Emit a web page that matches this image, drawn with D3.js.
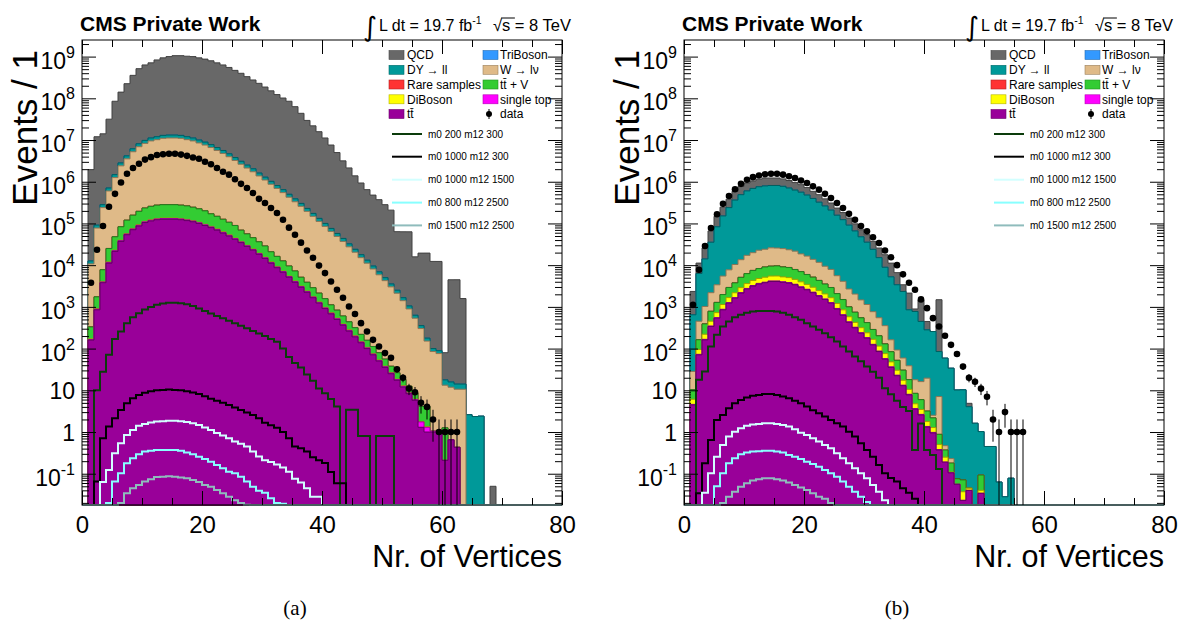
<!DOCTYPE html>
<html>
<head>
<meta charset="utf-8">
<script src="https://cdn.jsdelivr.net/npm/d3@7"></script>
<style>
  body { margin: 0; background: #fff; }
  svg { display: block; }
</style>
</head>
<body>
<svg id="chart" width="1184" height="628"></svg>
<script>
// ---------------- data: events per 1-vertex bin (index = bin lower edge) ----------------
// Panel (a)
const ttbarA = [0,160,850,3800,11200,21400,37200,53700,70800,87100,1.05e5,1.15e5,1.23e5,1.26e5,1.26e5,1.26e5,1.23e5,1.17e5,1.10e5,1.0e5,89100,79400,69200,58900,50100,41700,34700,28200,22900,18200,14500,11200,8700,6760,5130,3890,2950,2240,1660,1230,910,680,500,363,263,191,138,100,71,50,35.5,25,17.4,12,8.3,5.75,1.3,1.0,1.0,1.0,0.21,0.65,0.43];
const singleTopA = [0,6,34,150,450,860,1500,2100,2800,3500,4200,4600,4900,5000,5000,5000,4900,4700,4400,4000,3600,3200,2800,2400,2000,1700,1400,1100,920,730,580,450,350,270,210,160,120,90,66,49,36,27,20,15,11,8,6,4,3,2,1.4,1.0,0.7,0.5,0.33,0.23,0.45,0.3,0.05];
const diBosonA = [0,5,26,110,340,640,1100,1600,2100,2600,3200,3500,3700,3800,3800,3800,3700,3500,3300,3000,2700,2400,2100,1800,1500,1300,1000,850,690,550,440,340,260,200,150,120,90,67,50,37,27,20,15,11,8,6,4,3,2,1.5,1.1,0.75,0.5,0.36,0.25,0.17,0.05,0.05];
const ttVA = [0,160,830,3700,13100,25000,43400,62500,82000,1.02e5,1.22e5,1.34e5,1.43e5,1.47e5,1.47e5,1.47e5,1.43e5,1.38e5,1.27e5,1.17e5,1.05e5,85000,74000,63000,53000,44500,32000,26000,21000,16800,13300,8900,6900,5400,4060,3080,1970,1490,1100,820,600,390,300,215,156,112,71,51,36,26,18,11,7.7,5.4,3.7,2.5,2.3,2.8,0,0,1.05];
const rareA = [0,2,8,37,130,250,430,620,820,1000,1200,1300,1400,1500,1500,1500,1400,1400,1300,1200,1000,850,740,630,530,450,320,260,210,170,130,90,70,54,41,31,20,15,11,8,6,4,3,2,1.6,1.1,0.7,0.5,0.4,0.3,0.2,0.1];
const wlnuA = [0,10400,75800,2.32e5,5.77e5,1.21e6,2.32e6,3.42e6,5.08e6,6.72e6,8.07e6,9.26e6,9.92e6,1.07e7,1.09e7,1.09e7,1.07e7,9.94e6,9.27e6,8.28e6,7.37e6,6.43e6,5.47e6,4.65e6,3.87e6,3.14e6,2.56e6,2.07e6,1.69e6,1.34e6,1.07e6,8.5e5,6.75e5,5.36e5,4.16e5,3.24e5,2.52e5,1.91e5,1.45e5,1.10e5,83400,63400,48000,36500,27100,20100,14900,11000,8000,5800,4200,2980,2100,1390,880,527,298,147,84,75,12,11.2,10.2,10.6];
const dyA = [0,1900,13700,42000,1.06e5,2.2e5,4.2e5,6.3e5,9.3e5,1.22e6,1.47e6,1.68e6,1.8e6,1.94e6,1.98e6,1.98e6,1.94e6,1.8e6,1.68e6,1.5e6,1.34e6,1.16e6,9.9e5,8.4e5,7.0e5,5.7e5,4.6e5,3.8e5,3.1e5,2.4e5,1.9e5,1.5e5,1.2e5,97000,75000,58000,45000,34000,26000,20000,15000,11400,8600,6600,4900,3600,2700,2000,1430,1040,750,530,380,250,160,95,53,27,15,13,4.5,4,3.5,3.5,2.6,2.35,2.4];
const triBosonA = [0,1,10,30,80,160,300,450,650,850,1000,1150,1250,1350,1380,1380,1350,1250,1150,1050,930,800,690,580,490,400,320,260,210,170,130,100,80,65,50,40,30,23,17,13,10,7,5,4,3,2,1.5,1,0.8,0.6,0.4,0.3,0.2,0.1];
const qcdA = [0,1.94e6,1.19e7,1.38e7,3.09e7,8.36e7,1.38e8,2.2e8,3.49e8,5.05e8,6.21e8,6.97e8,8.2e8,9.2e8,9.87e8,1.04e9,1.04e9,1.01e9,9.89e8,9.23e8,8.62e8,7.86e8,7.01e8,6.25e8,5.45e8,4.64e8,3.95e8,3.28e8,2.73e8,2.27e8,1.85e8,1.5e8,1.22e8,1.01e8,8.46e7,6.27e7,4.34e7,2.93e7,2.17e7,1.57e7,1.11e7,7.51e6,4.95e6,3.12e6,2.11e6,1.36e6,9.15e5,6.33e5,4.69e5,3.65e5,2.77e5,2.05e5,6.1e4,6.15e4,6.2e4,1.52e4,1.91e4,1.93e4,1.22e4,1.22e4,62,4450,4460,1570,0,0,0,0,0.05];
const dataA = [0,3800,23400,87100,2.51e5,5.13e5,9.55e5,1.55e6,2.14e6,2.69e6,3.39e6,3.89e6,4.37e6,4.57e6,4.68e6,4.68e6,4.47e6,4.17e6,3.8e6,3.55e6,3.02e6,2.63e6,2.14e6,1.74e6,1.48e6,1.15e6,8.91e5,7.08e5,5.37e5,3.89e5,3.09e5,2.34e5,1.78e5,1.23e5,79400,53700,34700,22400,15100,9770,6460,4070,2570,1660,1020,676,407,257,162,112,78,60,32,20,11,9,5,4,2,1,1,1,1];
const sig1A = [0,0,10,28,71,170,257,407,562,708,871,1000,1120,1200,1260,1260,1230,1150,1050,912,794,692,603,537,468,407,355,309,263,229,200,170,145,100,63,45,35,24,17,11,8.5,6.2,4.1,0,3.4,3.4,0.8,0.8,0,0.8,0.8,0.8];
const sig2A = [0,0,0.065,0.71,1.35,2.14,3.39,4.9,6.46,7.76,8.71,9.55,10.0,10.2,10.5,10.2,10.0,9.55,8.91,8.13,7.24,6.31,5.62,5.01,4.47,3.89,3.39,2.95,2.57,2.14,1.66,1.45,1.26,1.0,0.71,0.45,0.41,0.34,0.25,0.21,0.18,0.11,0.059,0.059];
const sig3A = [0,0,0,0.063,0.123,0.31,0.54,0.85,1.12,1.41,1.55,1.70,1.78,1.82,1.86,1.86,1.82,1.74,1.62,1.48,1.29,1.12,0.95,0.83,0.71,0.59,0.52,0.45,0.34,0.26,0.21,0.19,0.166,0.141,0.112,0.076,0.062,0.045,0.028,0.028];
const sig4A = [0,0,0,0,0.020,0.065,0.102,0.178,0.234,0.295,0.339,0.355,0.372,0.372,0.372,0.372,0.355,0.324,0.295,0.257,0.224,0.195,0.162,0.135,0.112,0.102,0.085,0.065,0.049,0.039,0.035,0.026,0.020,0.019];
const sig5A = [0,0,0,0,0,0,0.020,0.034,0.045,0.054,0.065,0.074,0.083,0.085,0.087,0.085,0.081,0.078,0.071,0.063,0.054,0.049,0.041,0.034,0.028,0.023,0.020,0.018];

// Panel (b)
const ttbarB = [0,4.47,70.8,162,339,537,851,1230,1620,2140,2690,3160,3550,3800,4070,4070,3890,3720,3390,2950,2570,2190,1820,1510,1230,891,631,427,316,234,178,123,85,56,35.5,22.4,12.9,7.8,3.55,2.57,1.32,0.95,0.37,0.19,0.105,0.056,0.023,0.04,0,0.034];
const singleTopB = [0,0.13,2.1,4.9,10,16,26,37,49,64,81,95,107,114,122,122,117,112,102,89,77,66,55,45,37,27,19,13,9.5,7,5.3,3.7,2.6,1.7,1.1,0.7,0.4,0.23,0.1,0.08,0.04,0.03,0.01];
const diBosonB = [0,1.5,22,54,105,175,265,400,510,690,850,1020,1130,1230,1290,1310,1230,1200,1070,950,815,705,575,490,390,290,198,140,99,76,56,40,27,18,11.4,7.2,4.1,2.5,1.1,0.82,0.42,0.3,0.12,0.06,0.005,0,0.014,0.005,0,0.006];
const ttVB = [0,4.2,68,170,330,550,830,1250,1580,2200,2650,3200,3500,3900,4000,4100,3850,3750,3300,3000,2500,2200,1850,1480,1250,870,650,420,320,230,180,120,88,54,36,22,13,7.5,3.7,2.5,1.4,0.9,0.38,0.12,0.07,0.02,0.034,0,0,0.053];
const rareB = [0,0.04,0.7,1.6,3.4,5.4,8.5,12,16,21,27,32,36,38,41,41,39,37,34,30,26,22,18,15,12,9,6,4,3,2.3,1.8,1.2,0.9,0.6,0.4,0.2,0.1,0.1];
const wlnuB = [0,18,290,630,1400,2100,3500,4800,6600,8400,10900,12400,14500,15000,16500,16100,15800,14600,13800,11600,10500,8600,7400,5900,5000,3500,2600,1680,1280,920,720,480,345,224,78,40,29,20.6,9.5,10.2,16.4,0.34,6.2,0.1,0.05];
const dyB = [0,618,5860,13100,33300,79800,1.46e5,2.32e5,3.53e5,4.76e5,5.86e5,6.72e5,7.36e5,7.7e5,7.87e5,7.87e5,7.51e5,6.84e5,6.09e5,5.43e5,4.63e5,3.84e5,3.12e5,2.53e5,2.01e5,1.52e5,1.19e5,88500,64100,46400,34400,23200,14600,8550,5090,3300,2280,812,758,431,262,254,78,58.5,33.6,10.1,10.2,4.0,1.62,0.93,0.45,0.45,0.063,0.028,0.078];
const triBosonB = [0,0.3,3,7,17,40,75,115,175,240,290,335,370,385,395,395,375,340,305,270,230,190,155,125,100,75,60,44,32,23,17,12,7,4,2.5,1.6,1.1,0.4,0.4,0.2,0.1,0.1];
const qcdB = [0,1700,4900,11600,30600,64800,94000,1.4e5,2.26e5,2.86e5,3.3e5,3.55e5,3.89e5,4.36e5,4.17e5,4.17e5,3.94e5,3.62e5,3.24e5,2.89e5,2.45e5,1.91e5,1.66e5,1.26e5,1.0e5,76000,59000,43800,31600,22900,18200,13200,10600,8890,5950,3220,1050,1290,115,1030,165,0,1400,0,0,0,0,0.83];
const dataB = [0,1120,7760,28800,77600,1.66e5,2.95e5,4.57e5,6.61e5,8.91e5,1.12e6,1.29e6,1.41e6,1.51e6,1.55e6,1.55e6,1.48e6,1.35e6,1.23e6,1.07e6,9.33e5,7.76e5,6.46e5,5.13e5,4.07e5,3.09e5,2.34e5,1.7e5,1.23e5,87100,64600,46800,33900,22400,15500,10000,6030,3800,2570,1510,933,537,339,204,123,74,37,20,16,11,7,2,1,3,1,1,1];
const sig1B = [0,0,17.8,28.2,112,214,339,447,562,646,724,776,794,794,794,776,724,646,562,490,407,339,282,234,186,148,112,85,65,50,37,28,20,11.2,8,5.6,4,3.2,0.37,1.6,0.37,0.28,0.13];
const sig2B = [0,0,0.034,0.178,0.646,1.95,2.57,3.72,4.9,5.89,6.76,7.41,7.76,8.13,8.13,7.76,7.08,6.46,5.62,4.9,4.07,3.31,2.82,2.34,1.95,1.62,1.35,1.02,0.776,0.537,0.372,0.257,0.162,0.102,0.079,0.065,0.045,0.035,0.025];
const sig3B = [0,0,0,0.035,0.102,0.257,0.49,0.776,1.02,1.23,1.41,1.51,1.55,1.62,1.62,1.55,1.48,1.35,1.17,0.955,0.851,0.708,0.589,0.49,0.407,0.309,0.234,0.178,0.135,0.102,0.078,0.054,0.037,0.023];
const sig4B = [0,0,0,0,0,0.05,0.102,0.178,0.234,0.295,0.324,0.339,0.347,0.355,0.355,0.339,0.324,0.282,0.257,0.224,0.195,0.17,0.148,0.123,0.102,0.085,0.065,0.049,0.037,0.028,0.021];
const sig5B = [0,0,0,0,0,0,0.02,0.028,0.037,0.049,0.059,0.069,0.074,0.078,0.078,0.074,0.069,0.062,0.054,0.047,0.041,0.034,0.028,0.025,0.020];

// Legend / axis text
const boxEntries = [
  ["qcd", "QCD"], ["triBoson", "TriBoson"],
  ["dy", "DY \u2192 ll"], ["wlnu", "W \u2192 l\u03bd"],
  ["rare", "Rare samples"], ["ttV", "tt\u0304 + V"],
  ["diBoson", "DiBoson"], ["singleTop", "single top"],
  ["ttbar", "tt\u0304"], ["data", "data"]
];
const signalLabels = ["m0 200 m12 300", "m0 1000 m12 300", "m0 1000 m12 1500", "m0 800 m12 2500", "m0 1500 m12 2500"];
const xTickValues = [0, 20, 40, 60, 80];
const yDecades = [-1, 0, 1, 2, 3, 4, 5, 6, 7, 8, 9];

// ---------------- drawing ----------------
const FONT = '"Liberation Sans", Arial, Helvetica, sans-serif';
const Y_MIN = 0.0178, Y_MAX = 2.5e9;
const TOP = 40, BOTTOM = 505, NBINS = 80;
const keys = ["ttbar", "singleTop", "diBoson", "ttV", "rare", "wlnu", "dy", "triBoson", "qcd"];
const colors = {
  qcd: "#686868", triBoson: "#3399ff", dy: "#009999", wlnu: "#dfba88", rare: "#ff3333",
  ttV: "#33cc33", diBoson: "#ffff00", singleTop: "#ff00ff", ttbar: "#990099"
};
const signalColors = ["#0c3c0c", "#000000", "#d2ffff", "#88ffff", "#8fbcbc"];

const svg = d3.select("#chart");
svg.append("rect").attr("width", 1184).attr("height", 628).attr("fill", "#fff");

const panels = [
  { id: "a", left: 82, right: 562, caption: "(a)",
    stack: { ttbar: ttbarA, singleTop: singleTopA, diBoson: diBosonA, ttV: ttVA, rare: rareA, wlnu: wlnuA, dy: dyA, triBoson: triBosonA, qcd: qcdA },
    data: dataA, signals: [sig1A, sig2A, sig3A, sig4A, sig5A] },
  { id: "b", left: 684, right: 1164, caption: "(b)",
    stack: { ttbar: ttbarB, singleTop: singleTopB, diBoson: diBosonB, ttV: ttVB, rare: rareB, wlnu: wlnuB, dy: dyB, triBoson: triBosonB, qcd: qcdB },
    data: dataB, signals: [sig1B, sig2B, sig3B, sig4B, sig5B] }
];

function drawPanel(p) {
  const x = d3.scaleLinear().domain([0, 80]).range([p.left, p.right]);
  const y = d3.scaleLog().domain([Y_MIN, Y_MAX]).range([BOTTOM, TOP]);
  const cy = v => y(Math.min(Math.max(v, Y_MIN), Y_MAX));
  const g = svg.append("g");

  const clipId = "clip-" + p.id;
  svg.append("clipPath").attr("id", clipId).append("rect")
    .attr("x", p.left).attr("y", TOP).attr("width", p.right - p.left).attr("height", BOTTOM - TOP + 1.5);
  const plot = g.append("g").attr("clip-path", `url(#${clipId})`);

  // stacked backgrounds
  const rows = d3.range(NBINS).map(i => {
    const r = { bin: i };
    keys.forEach(k => r[k] = p.stack[k][i] || 0);
    return r;
  });
  const series = d3.stack().keys(keys)(rows);
  const area = d3.area().curve(d3.curveStepAfter)
    .x(d => x(d.b)).y0(BOTTOM).y1(d => cy(d.v));
  series.slice().reverse().forEach(s => {
    const pts = s.map((d, i) => ({ b: i, v: d[1] }));
    pts.push({ b: NBINS, v: s[NBINS - 1][1] });
    plot.append("path").attr("d", area(pts))
      .attr("fill", colors[s.key])
      .attr("stroke", d3.color(colors[s.key]).darker(1.3))
      .attr("stroke-width", 1);
  });

  // frame
  g.append("rect").attr("x", p.left).attr("y", TOP)
    .attr("width", p.right - p.left).attr("height", BOTTOM - TOP)
    .attr("fill", "none").attr("stroke", "#000").attr("stroke-width", 1);

  // signal histograms
  const line = d3.line().curve(d3.curveStepAfter).x(d => x(d.b)).y(d => cy(d.v));
  p.signals.forEach((vals, j) => {
    const pts = d3.range(NBINS).map(i => ({ b: i, v: vals[i] || 0 }));
    pts.push({ b: NBINS, v: 0 });
    plot.append("path").attr("d", line(pts)).attr("fill", "none")
      .attr("stroke", signalColors[j]).attr("stroke-width", 2);
  });

  // data points with sqrt(N) errors
  const dg = plot.append("g");
  p.data.forEach((n, i) => {
    if (!n) return;
    const xc = x(i + 0.5), e = Math.sqrt(n);
    dg.append("line").attr("x1", xc).attr("x2", xc)
      .attr("y1", cy(n - e)).attr("y2", cy(n + e))
      .attr("stroke", "#000").attr("stroke-width", 1);
    dg.append("circle").attr("cx", xc).attr("cy", y(n)).attr("r", 3.3).attr("fill", "#000");
  });

  // axes (ticks inside on all four sides)
  const xMinor = d3.range(0, 81, 5).filter(v => v % 20 !== 0);
  const minorY = [];
  for (let e = -2; e <= 9; e++) for (let k = 2; k <= 9; k++) {
    const v = k * Math.pow(10, e);
    if (v > Y_MIN && v < Y_MAX) minorY.push(v);
  }
  const majorY = yDecades.map(e => Math.pow(10, e));
  const axes = [
    [d3.axisBottom(x).tickValues(xTickValues).tickSize(-14).tickPadding(11).tickFormat(d3.format("d")), `translate(0,${BOTTOM})`],
    [d3.axisBottom(x).tickValues(xMinor).tickSize(-7).tickFormat(""), `translate(0,${BOTTOM})`],
    [d3.axisTop(x).tickValues(xTickValues).tickSize(-14).tickFormat(""), `translate(0,${TOP})`],
    [d3.axisTop(x).tickValues(xMinor).tickSize(-7).tickFormat(""), `translate(0,${TOP})`],
    [d3.axisLeft(y).tickValues(majorY).tickSize(-14).tickFormat(""), `translate(${p.left},0)`],
    [d3.axisLeft(y).tickValues(minorY).tickSize(-7).tickFormat(""), `translate(${p.left},0)`],
    [d3.axisRight(y).tickValues(majorY).tickSize(-14).tickFormat(""), `translate(${p.right},0)`],
    [d3.axisRight(y).tickValues(minorY).tickSize(-7).tickFormat(""), `translate(${p.right},0)`]
  ];
  axes.forEach(([ax, tr]) => {
    const a = g.append("g").attr("transform", tr).call(ax);
    a.select(".domain").remove();
    a.attr("font-family", FONT).attr("font-size", 24);
    a.selectAll(".tick line").attr("stroke", "#000");
    a.selectAll(".tick text").attr("fill", "#000");
  });

  // y tick labels
  yDecades.forEach(e => {
    const yy = y(Math.pow(10, e));
    const t = g.append("text").attr("x", p.left - 7).attr("text-anchor", "end")
      .attr("font-family", FONT).attr("font-size", 23).attr("fill", "#000");
    if (e === 0 || e === 1) {
      t.attr("y", yy + 9).text(e === 0 ? "1" : "10");
    } else {
      t.attr("y", yy + 12);
      t.append("tspan").text("10");
      t.append("tspan").attr("font-size", 16).attr("dy", -11).text(e < 0 ? "-1" : String(e));
    }
  });

  // axis titles
  g.append("text").attr("x", p.right).attr("y", 567).attr("text-anchor", "end")
    .attr("font-family", FONT).attr("font-size", 30.5).attr("fill", "#000").text("Nr. of Vertices");
  g.append("text").attr("transform", `translate(${p.left - 45},50) rotate(-90)`)
    .attr("text-anchor", "end").attr("font-family", FONT).attr("font-size", 35)
    .attr("fill", "#000").text("Events / 1");

  // header
  g.append("text").attr("x", p.left - 2).attr("y", 31).attr("font-family", FONT)
    .attr("font-weight", "bold").attr("font-size", 21).attr("fill", "#000").text("CMS Private Work");
  g.append("text").attr("x", p.left + 281).attr("y", 36).attr("font-family", '"DejaVu Sans", sans-serif')
    .attr("font-size", 27).attr("fill", "#000").text("\u222b");
  const lumi = g.append("text").attr("x", p.left + 297).attr("y", 31).attr("font-family", FONT)
    .attr("font-size", 16).attr("fill", "#000");
  lumi.append("tspan").text("L dt = 19.7 fb");
  lumi.append("tspan").attr("font-size", 10.5).attr("dy", -7).text("-1");
  const rs = g.append("text").attr("x", p.left + 489).attr("y", 31).attr("text-anchor", "end")
    .attr("font-family", FONT).attr("font-size", 16.5).attr("fill", "#000").text("\u221as = 8 TeV");
  // bar over the "s" of the sqrt
  const tmp = g.append("text").attr("font-family", FONT).attr("font-size", 16.5).text("s = 8 TeV");
  const rest = tmp.node().getComputedTextLength();
  const tmp2 = g.append("text").attr("font-family", FONT).attr("font-size", 16.5).text(" = 8 TeV");
  const rest2 = tmp2.node().getComputedTextLength();
  tmp.remove(); tmp2.remove();
  const sStart = p.left + 489 - rest, sEnd = p.left + 489 - rest2;
  g.append("line").attr("x1", sStart - 1).attr("x2", sEnd).attr("y1", 18).attr("y2", 18)
    .attr("stroke", "#000").attr("stroke-width", 1);

  // legend
  const lg = g.append("g").attr("transform", `translate(${p.left + 307},0)`);
  const rowY = [55, 69.8, 84.5, 99.3, 114];
  boxEntries.forEach(([key, label], i) => {
    const col = i % 2, row = Math.floor(i / 2);
    const bx = col === 0 ? 0 : 94, yy = rowY[row];
    if (key === "data") {
      lg.append("line").attr("x1", bx + 6).attr("x2", bx + 6).attr("y1", yy - 5).attr("y2", yy + 5)
        .attr("stroke", "#000").attr("stroke-width", 1);
      lg.append("circle").attr("cx", bx + 6).attr("cy", yy).attr("r", 3).attr("fill", "#000");
    } else {
      lg.append("rect").attr("x", bx).attr("y", yy - 4.5).attr("width", 15).attr("height", 9)
        .attr("fill", colors[key]).attr("stroke", d3.color(colors[key]).darker(1)).attr("stroke-width", 0.6);
    }
    lg.append("text").attr("x", bx + (col === 0 ? 18 : 17)).attr("y", yy + 4.2)
      .attr("font-family", FONT).attr("font-size", 12).attr("fill", "#000").text(label);
  });
  const lineY = [134, 156.7, 179.7, 202.6, 225.4];
  signalLabels.forEach((label, j) => {
    lg.append("line").attr("x1", 3).attr("x2", 33).attr("y1", lineY[j]).attr("y2", lineY[j])
      .attr("stroke", signalColors[j]).attr("stroke-width", 2);
    lg.append("text").attr("x", 39).attr("y", lineY[j] + 3.6)
      .attr("font-family", FONT).attr("font-size", 10).attr("fill", "#000").text(label);
  });

  // caption
  g.append("text").attr("x", p.left + 213).attr("y", 615).attr("text-anchor", "middle")
    .attr("font-family", '"Liberation Serif", "DejaVu Serif", serif').attr("font-size", 21)
    .attr("fill", "#000").text(p.caption);
}

panels.forEach(drawPanel);
</script>
</body>
</html>
